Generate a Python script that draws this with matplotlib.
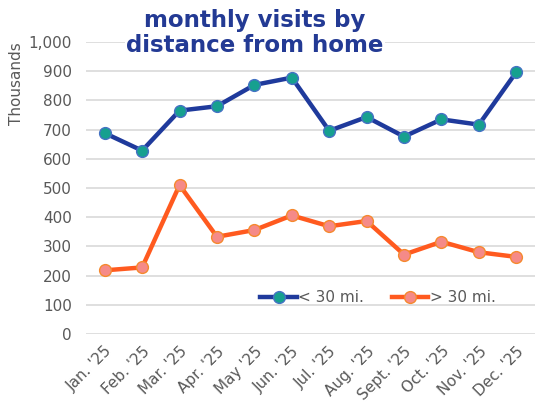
import matplotlib
matplotlib.use("Agg")
import matplotlib.pyplot as plt

months = ["Jan. '25", "Feb. '25", "Mar. '25", "Apr. '25", "May '25", "Jun. '25",
          "Jul. '25", "Aug. '25", "Sept. '25", "Oct. '25", "Nov. '25", "Dec. '25"]
near = [688, 628, 765, 780, 853, 878, 696, 743, 676, 735, 717, 897]
far = [218, 228, 510, 333, 356, 406, 369, 387, 272, 316, 280, 264]
yticks = [0, 100, 200, 300, 400, 500, 600, 700, 800, 900, 1000]

plt.rcParams['font.family'] = ['DejaVu Sans']

fig = plt.figure(figsize=(5.35, 4.08), dpi=100)
ax = fig.add_axes([86/535, 1-334/408, 449/535, (334-42)/408])

x = list(range(len(months)))
ax.plot(x, near, color='#1f3a9c', lw=3.2, marker='o', ms=8.5,
        mfc='#16a08f', mec='#4472c4', mew=1.0, label='< 30 mi.', clip_on=False, zorder=3)
ax.plot(x, far, color='#ff5a1f', lw=3.2, marker='o', ms=8.5,
        mfc='#f58a88', mec='#f5892e', mew=1.0, label='> 30 mi.', clip_on=False, zorder=3)

ax.set_xlim(-0.5, len(months) - 0.5)
ax.set_ylim(0, 1000)
ax.set_yticks(yticks)
ax.set_yticklabels([f"{v:,}" for v in yticks])
ax.set_xticks(x)
ax.set_xticklabels(months, rotation=45, ha='right', rotation_mode='anchor')
ax.tick_params(axis='both', length=0, colors='#595959', labelsize=11)
ax.tick_params(axis='y', pad=10)
ax.tick_params(axis='x', pad=7)
ax.grid(axis='y', color='#d9d9d9', lw=1.2)
ax.set_axisbelow(True)
for s in ax.spines.values():
    s.set_visible(False)

fig.text(17/535, 1-84/408, 'Thousands', rotation=90, ha='center', va='center',
         color='#595959', fontsize=11)

fig.text(255/535, 1-33/408, 'monthly visits by\ndistance from home', ha='center', va='center',
         fontsize=16.5, fontweight='bold', color='#233a94', linespacing=1.08,
         bbox=dict(facecolor='white', edgecolor='none', pad=1))

leg = ax.legend(loc='center', bbox_to_anchor=((378-86)/449, (334-298)/292), ncol=2,
                frameon=False, fontsize=11, handlelength=2.4, handletextpad=0.1,
                columnspacing=1.8, labelcolor='#595959')

fig.savefig('out.png', dpi=100)
